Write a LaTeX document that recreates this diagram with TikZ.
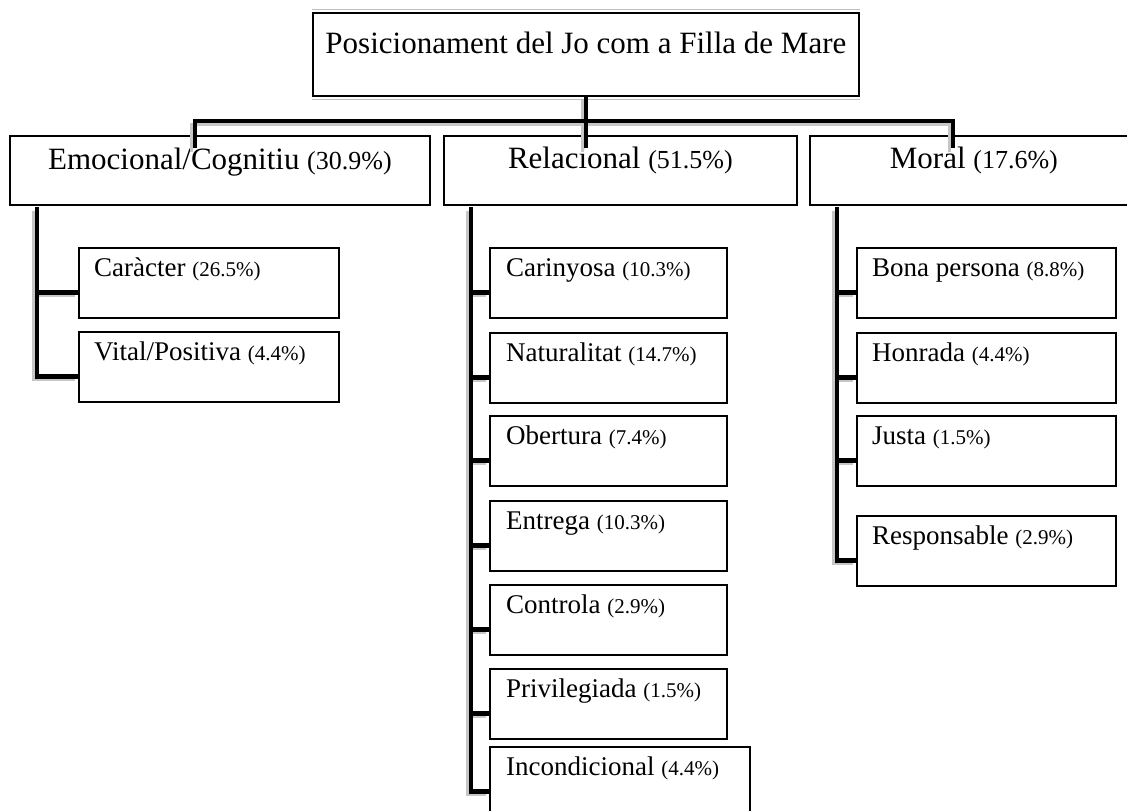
\documentclass[tikz,border=0pt]{standalone}
\usepackage{fontspec}
\setmainfont{Liberation Serif}
\usepackage{tikz}
\usetikzlibrary{calc}

\newcommand{\pctbig}[1]{{\fontsize{26}{26}\selectfont #1}}
\newcommand{\pctsml}[1]{{\fontsize{21}{21}\selectfont #1}}

\tikzset{
	box/.style={draw, line width=1.8pt, minimum height=70pt, inner sep=0pt, anchor=north west},
	head/.style={font=\fontsize{31}{31}\selectfont, inner sep=0pt, anchor=base},
	item/.style={font=\fontsize{27}{27}\selectfont, inner sep=0pt, anchor=base west},
	bar/.style={line width=4.5pt, preaction={draw=gray!45, line width=3pt, transform canvas={shift={(-3.5pt,-3.5pt)}}}},
	rim/.style={draw=gray!50, line width=1.2pt}
}

\begin{document}
\begin{tikzpicture}[x=1pt,y=-1pt]
	\useasboundingbox (0,0) rectangle (1127,811);

	%top box
	\node[box, minimum width=546pt, minimum height=83pt] (title) at (312,12) {};
	\draw[rim] ([yshift=2.5pt]title.north west) -- ([yshift=2.5pt]title.north east);
	\draw[rim] ([yshift=-2.5pt]title.south west) -- ([yshift=-2.5pt]title.south east);
	\node[head] (title-t) at ($(title.north)+(0,41)$) {Posicionament del Jo com a Filla de Mare};

	%second row
	\node[box, minimum width=420pt, minimum height=69pt] (emo) at (9,135) {};
	\node[box, minimum width=353pt, minimum height=69pt] (rel) at (443,135) {};
	\node[box, minimum width=328pt, minimum height=69pt] (mor) at (809,135) {};
	\node[head] (emo-t) at ($(emo.north)+(0,34)$) {Emocional/Cognitiu \pctbig{(30.9\%)}};
	\node[head] (rel-t) at ($(rel.north)+(0,33)$) {Relacional \pctbig{(51.5\%)}};
	\node[head] (mor-t) at ($(mor.north)+(0,33)$) {Moral \pctbig{(17.6\%)}};

	%emocional
	\node[box, minimum width=260pt] (car) at (78,247) {};
	\node[box, minimum width=260pt] (vit) at (78,331) {};
	\node[item] (car-t) at ($(car.north west)+(16,29)$) {Caràcter \pctsml{(26.5\%)}};
	\node[item] (vit-t) at ($(vit.north west)+(16,29)$) {Vital/Positiva \pctsml{(4.4\%)}};

	%relacional
	\node[box, minimum width=237pt] (cari) at (489,247) {};
	\node[box, minimum width=237pt] (natu) at (489,332) {};
	\node[box, minimum width=237pt] (ober) at (489,415) {};
	\node[box, minimum width=237pt] (entr) at (489,500) {};
	\node[box, minimum width=237pt] (cont) at (489,584) {};
	\node[box, minimum width=237pt] (priv) at (489,668) {};
	\node[box, minimum width=260pt] (inco) at (489,746) {};
	\node[item] (cari-t) at ($(cari.north west)+(17,29)$) {Carinyosa \pctsml{(10.3\%)}};
	\node[item] (natu-t) at ($(natu.north west)+(17,29)$) {Naturalitat \pctsml{(14.7\%)}};
	\node[item] (ober-t) at ($(ober.north west)+(17,29)$) {Obertura \pctsml{(7.4\%)}};
	\node[item] (entr-t) at ($(entr.north west)+(17,29)$) {Entrega \pctsml{(10.3\%)}};
	\node[item] (cont-t) at ($(cont.north west)+(17,29)$) {Controla \pctsml{(2.9\%)}};
	\node[item] (priv-t) at ($(priv.north west)+(17,29)$) {Privilegiada \pctsml{(1.5\%)}};
	\node[item] (inco-t) at ($(inco.north west)+(17,29)$) {Incondicional \pctsml{(4.4\%)}};

	%moral
	\node[box, minimum width=259pt] (bona) at (856,247) {};
	\node[box, minimum width=259pt] (honr) at (856,332) {};
	\node[box, minimum width=259pt] (just) at (856,415) {};
	\node[box, minimum width=259pt] (resp) at (856,515) {};
	\node[item] (bona-t) at ($(bona.north west)+(16,29)$) {Bona persona \pctsml{(8.8\%)}};
	\node[item] (honr-t) at ($(honr.north west)+(16,29)$) {Honrada \pctsml{(4.4\%)}};
	\node[item] (just-t) at ($(just.north west)+(16,29)$) {Justa \pctsml{(1.5\%)}};
	\node[item] (resp-t) at ($(resp.north west)+(16,29)$) {Responsable \pctsml{(2.9\%)}};

	%bus
	\coordinate (busL) at (195,121);
	\coordinate (busR) at (953,121);
	\draw[bar] (title.south) -- (title.south |- busL) -- ++(0,27)
		(busL) ++(0,27) -- (busL) -- (busR) -- ++(0,27);

	%spines
	\coordinate (emo-s) at (37,207);
	\coordinate (rel-s) at (471,207);
	\coordinate (mor-s) at (837,207);
	\draw[bar] (emo-s) |- ([yshift=-9.5pt]vit.west)
		\foreach \c in {car} {([yshift=-9.5pt]\c.west) -- ++(-41,0)};
	\draw[bar] (rel-s) |- ([yshift=-9.5pt]inco.west)
		\foreach \c in {cari,natu,ober,entr,cont,priv} {([yshift=-9.5pt]\c.west) -- ++(-18,0)};
	\draw[bar] (mor-s) |- ([yshift=-9.5pt]resp.west)
		\foreach \c in {bona,honr,just} {([yshift=-9.5pt]\c.west) -- ++(-19,0)};
\end{tikzpicture}
\end{document}
